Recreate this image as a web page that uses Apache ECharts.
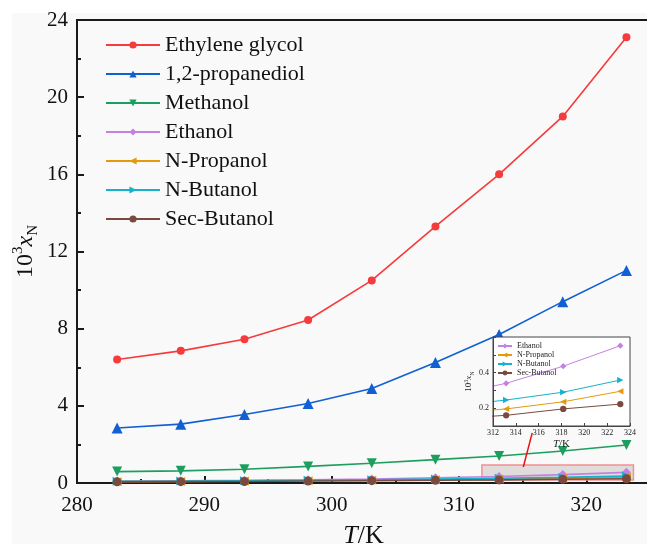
<!DOCTYPE html>
<html>
<head>
<meta charset="utf-8">
<style>
  html, body { margin: 0; padding: 0; background: #f9f9f9; }
  #chart { width: 647px; height: 544px; }
</style>
<script src="https://cdn.jsdelivr.net/npm/echarts@6/dist/echarts.min.js"></script>
</head>
<body>
<div id="chart"></div>
<script>
// Solubility (mole fraction x 10^3) versus temperature
const temps = [283.15, 288.15, 293.15, 298.15, 303.15, 308.15, 313.15, 318.15, 323.15];
const ethyleneGlycol = [6.40, 6.85, 7.45, 8.45, 10.50, 13.30, 16.00, 19.00, 23.10];
const propanediol   = [2.85, 3.05, 3.55, 4.12, 4.90, 6.25, 7.70, 9.40, 11.02];
const methanol      = [0.59, 0.63, 0.71, 0.86, 1.02, 1.21, 1.40, 1.66, 1.97];
const ethanol       = [0.10, 0.12, 0.14, 0.17, 0.21, 0.27, 0.34, 0.436, 0.551];
const nPropanol     = [0.07, 0.08, 0.10, 0.12, 0.14, 0.17, 0.196, 0.236, 0.295];
const nButanol      = [0.09, 0.10, 0.12, 0.14, 0.17, 0.21, 0.246, 0.290, 0.358];
const secButanol    = [0.06, 0.07, 0.08, 0.10, 0.12, 0.14, 0.160, 0.196, 0.223];

const mainXTicks = [280, 290, 300, 310, 320];
const insetYLabels = [0.2, 0.4];

// zoomed region shown in the inset
const zoomBox = { x: [311.8, 323.7], y: [0.15, 0.93] };
const arrow = { from: [315.05, 0.83], to: [315.75, 2.6] };

const serif = '"Liberation Serif", "DejaVu Serif", serif';

const seriesDefs = [
  { name: 'Ethylene glycol', data: ethyleneGlycol, color: '#f53b3b', symbol: 'circle',   size: 8,  rot: 0 },
  { name: '1,2-propanediol', data: propanediol,    color: '#1060d4', symbol: 'triangle', size: 11, rot: 0 },
  { name: 'Methanol',        data: methanol,       color: '#1c9e5e', symbol: 'triangle', size: 10, rot: 180 },
  { name: 'Ethanol',         data: ethanol,        color: '#c382e0', symbol: 'diamond',  size: 9,  rot: 0 },
  { name: 'N-Propanol',      data: nPropanol,      color: '#e49a0c', symbol: 'triangle', size: 9,  rot: 90 },
  { name: 'N-Butanol',       data: nButanol,       color: '#16b2cc', symbol: 'triangle', size: 9,  rot: -90 },
  { name: 'Sec-Butanol',     data: secButanol,     color: '#7a4a40', symbol: 'circle',   size: 9,  rot: 0 }
];
const insetNames = ['Ethanol', 'N-Propanol', 'N-Butanol', 'Sec-Butanol'];

const pairs = arr => temps.map((t, i) => [t, arr[i]]);

const series = [];
seriesDefs.forEach(d => {
  series.push({
    name: d.name, type: 'line', xAxisIndex: 0, yAxisIndex: 0,
    data: pairs(d.data), symbol: d.symbol, symbolSize: d.size, symbolRotate: d.rot,
    showAllSymbol: true, z: 2,
    lineStyle: { color: d.color, width: 1.6 },
    itemStyle: { color: d.color }
  });
});
// highlighted region and pointer to the inset
series.push({
  name: 'zoom', type: 'line', xAxisIndex: 0, yAxisIndex: 0, data: [], z: 3,
  markArea: {
    silent: true,
    itemStyle: { color: 'rgba(205,196,196,0.55)', borderColor: '#f29090', borderWidth: 1.5 },
    data: [[{ coord: [zoomBox.x[0], zoomBox.y[0]] }, { coord: [zoomBox.x[1], zoomBox.y[1]] }]]
  },
  markLine: {
    silent: true, symbol: ['none', 'arrow'], symbolSize: [0, 9],
    lineStyle: { color: '#ee1111', width: 1.5, type: 'solid' },
    label: { show: false },
    data: [[{ coord: arrow.from }, { coord: arrow.to }]]
  }
});
seriesDefs.filter(d => insetNames.includes(d.name)).forEach(d => {
  series.push({
    name: d.name, type: 'line', xAxisIndex: 1, yAxisIndex: 1,
    data: pairs(d.data), symbol: d.symbol, symbolSize: d.size * 0.7, symbolRotate: d.rot,
    showAllSymbol: true, clip: true, z: 5,
    lineStyle: { color: d.color, width: 1 },
    itemStyle: { color: d.color }
  });
});

const option = {
  animation: false,
  backgroundColor: '#f9f9f9',
  graphic: [
    { type: 'rect', left: 0, top: 0, shape: { width: 12, height: 544 }, style: { fill: '#ffffff' }, z: -1 },
    { type: 'rect', left: 0, top: 0, shape: { width: 647, height: 13 }, style: { fill: '#ffffff' }, z: -1 }
  ],
  grid: [
    { left: 77, top: 20, width: 573, height: 463, outerBoundsMode: 'none', containLabel: false,
      show: true, borderColor: '#1a1a1a', borderWidth: 2, backgroundColor: 'transparent' },
    { left: 493, top: 337, width: 137, height: 89, outerBoundsMode: 'none', containLabel: false,
      show: true, borderColor: '#444', borderWidth: 1, backgroundColor: '#ffffff', z: 4 }
  ],
  legend: [
    {
      data: seriesDefs.map(d => d.name),
      left: 105, top: 34, orient: 'vertical', padding: 0,
      itemWidth: 54, itemHeight: 9, itemGap: 7,
      textStyle: { fontFamily: serif, fontSize: 22, color: '#111', lineHeight: 22 }
    },
    {
      data: insetNames,
      left: 497, top: 342, orient: 'vertical', z: 6, padding: 0,
      itemWidth: 14, itemHeight: 6, itemGap: 1,
      textStyle: { fontFamily: serif, fontSize: 8, color: '#222', lineHeight: 7 }
    }
  ],
  xAxis: [
    {
      type: 'value', gridIndex: 0, min: 280, max: 325, interval: 10,
      name: '{i|T}{n|/K}', nameLocation: 'middle', nameGap: 40,
      nameTextStyle: { rich: { i: { fontFamily: serif, fontSize: 26, fontStyle: 'italic', color: '#111' }, n: { fontFamily: serif, fontSize: 26, color: '#111' } } },
      axisLine: { show: true, lineStyle: { color: '#1a1a1a', width: 2 } },
      axisTick: { show: true, inside: true, length: 7, lineStyle: { color: '#1a1a1a', width: 2 } },
      minorTick: { show: true, splitNumber: 2, length: 4, lineStyle: { color: '#1a1a1a', width: 2 } },
      splitLine: { show: false },
      axisLabel: {
        margin: 12, fontFamily: serif, fontSize: 21, color: '#111',
        formatter: v => (mainXTicks.includes(Math.round(v)) ? String(Math.round(v)) : '')
      }
    },
    {
      type: 'value', gridIndex: 1, min: 312, max: 324, interval: 2, z: 6,
      name: '{i|T}{n|/K}', nameLocation: 'middle', nameGap: 13,
      nameTextStyle: { rich: { i: { fontFamily: serif, fontSize: 11, fontStyle: 'italic', color: '#222' }, n: { fontFamily: serif, fontSize: 11, color: '#222' } } },
      axisLine: { show: true, lineStyle: { color: '#444', width: 1 } },
      axisTick: { show: true, inside: true, length: 3, lineStyle: { color: '#444' } },
      splitLine: { show: false },
      axisLabel: { margin: 3, fontFamily: serif, fontSize: 8, color: '#222' }
    }
  ],
  yAxis: [
    {
      type: 'value', gridIndex: 0, min: 0, max: 24, interval: 4,
      name: '{a|10}{sup|3}{i|x}{sub|N}', nameLocation: 'middle', nameGap: 36, nameRotate: 90,
      nameMoveOverlap: false,
      nameTextStyle: {
        rich: {
          a: { fontFamily: serif, fontSize: 24, color: '#111', lineHeight: 30 },
          sup: { fontFamily: serif, fontSize: 15, color: '#111', verticalAlign: 'top', lineHeight: 30 },
          i: { fontFamily: serif, fontSize: 24, fontStyle: 'italic', color: '#111', lineHeight: 30 },
          sub: { fontFamily: serif, fontSize: 15, color: '#111', verticalAlign: 'bottom', lineHeight: 30 }
        }
      },
      axisLine: { show: true, lineStyle: { color: '#1a1a1a', width: 2 } },
      axisTick: { show: true, inside: true, length: 7, lineStyle: { color: '#1a1a1a', width: 2 } },
      minorTick: { show: true, splitNumber: 2, length: 4, lineStyle: { color: '#1a1a1a', width: 2 } },
      splitLine: { show: false },
      axisLabel: { margin: 9, fontFamily: serif, fontSize: 21, color: '#111' }
    },
    {
      type: 'value', gridIndex: 1, min: 0.1, max: 0.6, interval: 0.1, z: 6,
      name: '{a|10}{sup|3}{i|x}{sub|N}', nameLocation: 'middle', nameGap: 11, nameRotate: 90,
      nameTextStyle: {
        rich: {
          a: { fontFamily: serif, fontSize: 9, color: '#222', lineHeight: 12 },
          sup: { fontFamily: serif, fontSize: 6, color: '#222', verticalAlign: 'top', lineHeight: 12 },
          i: { fontFamily: serif, fontSize: 9, fontStyle: 'italic', color: '#222', lineHeight: 12 },
          sub: { fontFamily: serif, fontSize: 6, color: '#222', verticalAlign: 'bottom', lineHeight: 12 }
        }
      },
      axisLine: { show: true, lineStyle: { color: '#444', width: 1 } },
      axisTick: { show: true, inside: true, length: 3, lineStyle: { color: '#444' } },
      splitLine: { show: false },
      axisLabel: {
        margin: 4, fontFamily: serif, fontSize: 8, color: '#222',
        formatter: v => (insetYLabels.some(l => Math.abs(l - v) < 1e-6) ? v.toFixed(1) : '')
      }
    }
  ],
  series: series
};

const chart = echarts.init(document.getElementById('chart'), null, { renderer: 'canvas' });
chart.setOption(option);
</script>
</body>
</html>
